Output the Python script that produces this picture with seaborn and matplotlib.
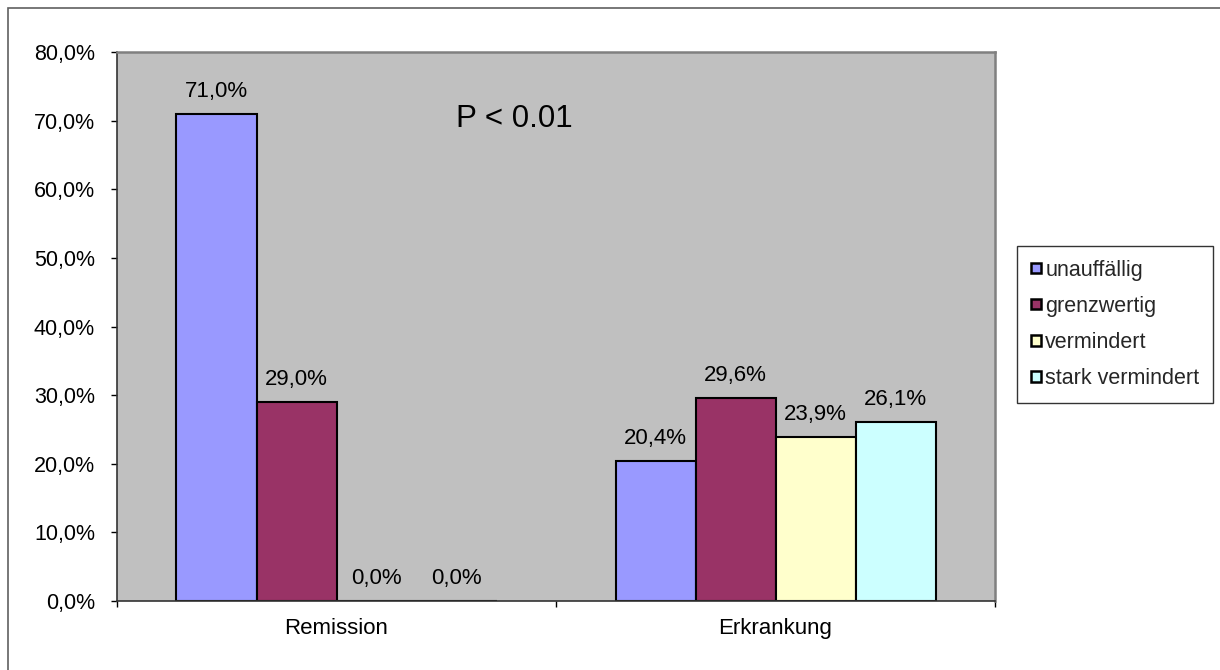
import matplotlib
matplotlib.use("Agg")
import matplotlib.pyplot as plt
import matplotlib.patches as mpatches
from matplotlib.ticker import FuncFormatter, FixedLocator
import pandas as pd
import seaborn as sns

# Data
groups = ["Remission", "Erkrankung"]
levels = ["unauffällig", "grenzwertig", "vermindert", "stark vermindert"]
remission = [71.0, 29.0, 0.0, 0.0]
erkrankung = [20.4, 29.6, 23.9, 26.1]
colors = ["#9999FF", "#993366", "#FFFFCC", "#CCFFFF"]
y_ticks = [0, 10, 20, 30, 40, 50, 60, 70, 80]
p_text = "P < 0.01"


def pct(v):
    return f"{v:.1f}%".replace(".", ",")


df = pd.DataFrame({
    "Gruppe": [g for g, vals in zip(groups, [remission, erkrankung]) for _ in vals],
    "Bewertung": levels * len(groups),
    "Anteil": remission + erkrankung,
})

sns.set_theme(style="ticks")
plt.rcParams["font.family"] = ["Liberation Sans", "DejaVu Sans"]

FS = 16
FS_SMALL = 15.5
W, H = 1220, 670
fig = plt.figure(figsize=(W / 100, H / 100), dpi=100)
fig.patch.set_facecolor("white")
ax = fig.add_axes([117 / W, 1 - 601 / H, 878 / W, 549 / H])
ax.set_facecolor("#C0C0C0")

sns.barplot(
    data=df, x="Gruppe", y="Anteil", hue="Bewertung",
    order=groups, hue_order=levels, palette=colors,
    width=320 / 439, gap=0, saturation=1, errorbar=None,
    edgecolor="black", linewidth=1.5, legend=False, ax=ax,
)

ax.set_xlim(-0.5, len(groups) - 0.5)
ax.set_ylim(y_ticks[0], y_ticks[-1])
ax.set_xlabel("")
ax.set_ylabel("")

# y axis
ax.yaxis.set_major_locator(FixedLocator(y_ticks))
ax.yaxis.set_major_formatter(FuncFormatter(lambda v, _: pct(v)))
ax.tick_params(axis="y", which="major", left=True, length=4.3, width=1,
               color="black", direction="out", pad=11.5, labelsize=FS_SMALL,
               labelcolor="black")

# x axis: labels at group centres, ticks at group borders
ax.set_xticks(range(len(groups)), labels=groups)
ax.set_xticks([i - 0.5 for i in range(len(groups) + 1)], minor=True)
ax.tick_params(axis="x", which="major", length=0, pad=12.5, labelsize=FS,
               labelcolor="black")
ax.tick_params(axis="x", which="minor", bottom=True, length=4.3, width=1,
               color="black", direction="out")

for side in ("left", "bottom"):
    ax.spines[side].set_color("#333333")
    ax.spines[side].set_linewidth(1.2)
for side in ("top", "right"):
    ax.spines[side].set_visible(True)
    ax.spines[side].set_color("#808080")
    ax.spines[side].set_linewidth(1.8)

# value labels
for cont in ax.containers:
    ax.bar_label(cont, labels=[pct(v) for v in cont.datavalues],
                 padding=8.5, fontsize=FS, color="black")

ax.text(0.4055, 69.07, p_text, ha="center", va="baseline", fontsize=22.5,
        color="black")

# legend
handles = [mpatches.Patch(facecolor=c, edgecolor="black", linewidth=1.8)
           for c in colors]
leg = fig.legend(handles, levels, loc="center left",
                 bbox_to_anchor=(1017 / W, 1 - 324.5 / H),
                 fontsize=FS_SMALL, frameon=True, fancybox=False, shadow=False,
                 handlelength=0.46, handleheight=0.37, handletextpad=0.22,
                 borderpad=0.64, labelspacing=0.7, borderaxespad=0)
leg.get_frame().set_edgecolor("black")
leg.get_frame().set_linewidth(1.0)
leg.get_frame().set_facecolor("white")

# outer chart border
fig.add_artist(mpatches.Rectangle((8 / W, -0.1), 1.2, 1.1 - 8 / H,
                                  transform=fig.transFigure, fill=False,
                                  edgecolor="#606060", linewidth=1.2))

fig.savefig("out.png", dpi=100)
